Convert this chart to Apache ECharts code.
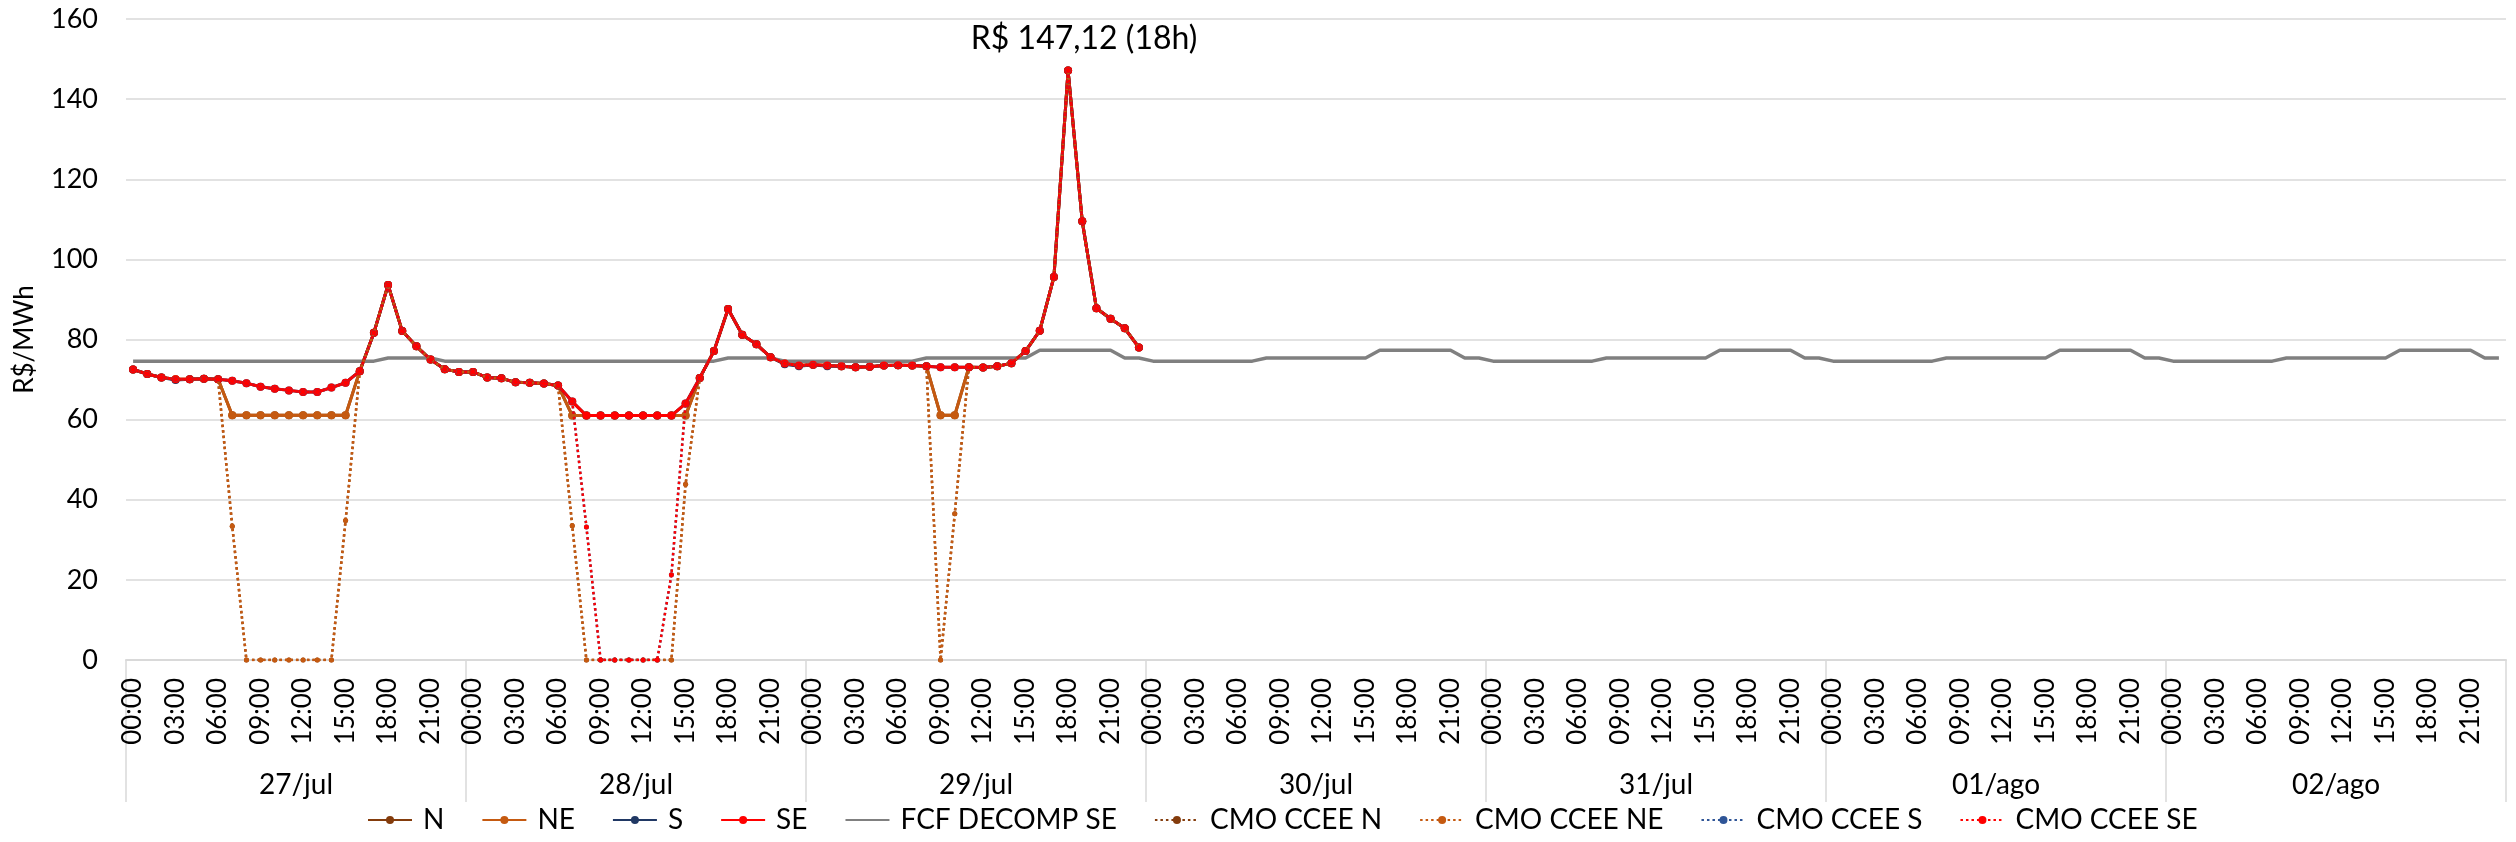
<!DOCTYPE html>
<html>
<head>
<meta charset="utf-8">
<script src="https://cdn.jsdelivr.net/npm/echarts@6/dist/echarts.min.js"></script>
<style>
html,body{margin:0;padding:0;background:#fff;}
#chart{width:2516px;height:842px;}
</style>
</head>
<body>
<div id="chart"></div>
<script>
// ---------- DATA ----------
const HOURS = ['00:00','01:00','02:00','03:00','04:00','05:00','06:00','07:00','08:00','09:00','10:00','11:00',
               '12:00','13:00','14:00','15:00','16:00','17:00','18:00','19:00','20:00','21:00','22:00','23:00'];
const DAYS = ['27/jul','28/jul','29/jul','30/jul','31/jul','01/ago','02/ago'];

const SE = [
  72.5, 71.4, 70.5, 70.1, 70.1, 70.2, 70.1, 69.7, 69.1, 68.2, 67.7, 67.3, 66.9, 66.9, 68.0, 69.2, 72.1, 81.7, 93.6, 82.1, 78.3, 75.0, 72.6, 71.9,
  71.9, 70.5, 70.3, 69.3, 69.2, 69.0, 68.5, 64.5, 61.0, 61.0, 61.0, 61.0, 61.0, 61.0, 61.0, 64.0, 70.4, 77.1, 87.6, 81.2, 78.8, 75.6, 74.0, 73.5,
  73.7, 73.5, 73.3, 73.1, 73.2, 73.5, 73.6, 73.5, 73.3, 73.1, 73.1, 73.1, 73.0, 73.3, 74.1, 77.1, 82.2, 95.6, 147.12, 109.5, 87.8, 85.2, 82.8, 78.0
];
const S = [
  72.5, 71.4, 70.5, 69.9, 70.1, 70.2, 70.1, 69.7, 69.1, 68.2, 67.7, 67.3, 66.9, 66.9, 68.0, 69.2, 72.1, 81.7, 93.6, 82.1, 78.3, 75.0, 72.6, 71.9,
  71.9, 70.5, 70.3, 69.3, 69.2, 69.0, 68.5, 64.5, 61.0, 61.0, 61.0, 61.0, 61.0, 61.0, 61.0, 64.0, 70.4, 77.1, 87.6, 81.2, 78.8, 75.6, 73.8, 73.3,
  73.7, 73.3, 73.3, 73.1, 73.2, 73.5, 73.6, 73.5, 73.3, 73.1, 73.1, 73.1, 73.0, 73.3, 74.1, 77.1, 82.2, 95.6, 147.12, 109.5, 87.8, 85.2, 82.8, 78.0
];
const NE = [
  72.5, 71.4, 70.5, 70.1, 70.1, 70.2, 70.1, 61.1, 61.1, 61.1, 61.1, 61.1, 61.1, 61.1, 61.1, 61.1, 72.1, 81.7, 93.6, 82.1, 78.3, 75.0, 72.6, 71.9,
  71.9, 70.5, 70.3, 69.3, 69.2, 69.0, 68.5, 61.0, 61.0, 61.0, 61.0, 61.0, 61.0, 61.0, 61.0, 61.0, 70.4, 77.1, 87.6, 81.2, 78.8, 75.6, 74.0, 73.5,
  73.7, 73.5, 73.3, 73.1, 73.2, 73.5, 73.6, 73.5, 73.3, 61.1, 61.1, 73.1, 73.0, 73.3, 74.1, 77.1, 82.2, 95.6, 147.12, 109.5, 87.8, 85.2, 82.8, 78.0
];
const N = [
  72.5, 71.4, 70.5, 70.1, 70.1, 70.2, 70.1, 61.1, 61.1, 61.1, 61.1, 61.1, 61.1, 61.1, 61.1, 61.1, 72.1, 81.7, 93.6, 82.1, 78.3, 75.0, 72.6, 71.9,
  71.9, 70.5, 70.3, 69.3, 69.2, 69.0, 68.5, 61.0, 61.0, 61.0, 61.0, 61.0, 61.0, 61.0, 61.0, 61.0, 70.4, 77.1, 87.6, 81.2, 78.8, 75.6, 74.0, 73.5,
  73.7, 73.5, 73.3, 73.1, 73.2, 73.5, 73.6, 73.5, 73.3, 61.1, 61.1, 73.1, 73.0, 73.3, 74.1, 77.1, 82.2, 95.6, 147.12, 109.5, 87.8, 85.2, 82.8, 78.0
];
const FCF_SE = [
  74.6, 74.6, 74.6, 74.6, 74.6, 74.6, 74.6, 74.6, 74.6, 74.6, 74.6, 74.6, 74.6, 74.6, 74.6, 74.6, 74.6, 74.6, 75.4, 75.4, 75.4, 75.4, 74.6, 74.6,
  74.6, 74.6, 74.6, 74.6, 74.6, 74.6, 74.6, 74.6, 74.6, 74.6, 74.6, 74.6, 74.6, 74.6, 74.6, 74.6, 74.6, 74.6, 75.4, 75.4, 75.4, 75.4, 74.6, 74.6,
  74.6, 74.6, 74.6, 74.6, 74.6, 74.6, 74.6, 74.6, 75.4, 75.4, 75.4, 75.4, 75.4, 75.4, 75.4, 75.4, 77.3, 77.3, 77.3, 77.3, 77.3, 77.3, 75.4, 75.4,
  74.6, 74.6, 74.6, 74.6, 74.6, 74.6, 74.6, 74.6, 75.4, 75.4, 75.4, 75.4, 75.4, 75.4, 75.4, 75.4, 77.3, 77.3, 77.3, 77.3, 77.3, 77.3, 75.4, 75.4,
  74.6, 74.6, 74.6, 74.6, 74.6, 74.6, 74.6, 74.6, 75.4, 75.4, 75.4, 75.4, 75.4, 75.4, 75.4, 75.4, 77.3, 77.3, 77.3, 77.3, 77.3, 77.3, 75.4, 75.4,
  74.6, 74.6, 74.6, 74.6, 74.6, 74.6, 74.6, 74.6, 75.4, 75.4, 75.4, 75.4, 75.4, 75.4, 75.4, 75.4, 77.3, 77.3, 77.3, 77.3, 77.3, 77.3, 75.4, 75.4,
  74.6, 74.6, 74.6, 74.6, 74.6, 74.6, 74.6, 74.6, 75.4, 75.4, 75.4, 75.4, 75.4, 75.4, 75.4, 75.4, 77.3, 77.3, 77.3, 77.3, 77.3, 77.3, 75.4, 75.4
];
const CMO_NE = [
  72.5, 71.4, 70.5, 70.1, 70.1, 70.2, 70.1, 33.4, 0, 0, 0, 0, 0, 0, 0, 34.8, 72.1, 81.7, 93.6, 82.1, 78.3, 75.0, 72.6, 71.9,
  71.9, 70.5, 70.3, 69.3, 69.2, 69.0, 68.5, 33.5, 0, 0, 0, 0, 0, 0, 0, 43.9, 70.4, 77.1, 87.6, 81.2, 78.8, 75.6, 74.0, 73.5,
  73.7, 73.5, 73.3, 73.1, 73.2, 73.5, 73.6, 73.5, 73.3, 0, 36.5, 73.1, 73.0, 73.3, 74.1, 77.1, 82.2, 95.6, 147.12, 109.5, 87.8, 85.2, 82.8, 78.0
];
const CMO_N = [
  72.5, 71.4, 70.5, 70.1, 70.1, 70.2, 70.1, 33.4, 0, 0, 0, 0, 0, 0, 0, 34.8, 72.1, 81.7, 93.6, 82.1, 78.3, 75.0, 72.6, 71.9,
  71.9, 70.5, 70.3, 69.3, 69.2, 69.0, 68.5, 33.5, 0, 0, 0, 0, 0, 0, 0, 43.9, 70.4, 77.1, 87.6, 81.2, 78.8, 75.6, 74.0, 73.5,
  73.7, 73.5, 73.3, 73.1, 73.2, 73.5, 73.6, 73.5, 73.3, 0, 36.5, 73.1, 73.0, 73.3, 74.1, 77.1, 82.2, 95.6, 147.12, 109.5, 87.8, 85.2, 82.8, 78.0
];
const CMO_SE = [
  72.5, 71.4, 70.5, 70.1, 70.1, 70.2, 70.1, 69.7, 69.1, 68.2, 67.7, 67.3, 66.9, 66.9, 68.0, 69.2, 72.1, 81.7, 93.6, 82.1, 78.3, 75.0, 72.6, 71.9,
  71.9, 70.5, 70.3, 69.3, 69.2, 69.0, 68.5, 64.5, 33.2, 0, 0, 0, 0, 0, 21.3, 64.0, 70.4, 77.1, 87.6, 81.2, 78.8, 75.6, 74.0, 73.5,
  73.7, 73.5, 73.3, 73.1, 73.2, 73.5, 73.6, 73.5, 73.3, 73.1, 73.1, 73.1, 73.0, 73.3, 74.1, 77.1, 82.2, 95.6, 147.12, 109.5, 87.8, 85.2, 82.8, 78.0
];
const CMO_S = [
  72.5, 71.4, 70.5, 70.1, 70.1, 70.2, 70.1, 69.7, 69.1, 68.2, 67.7, 67.3, 66.9, 66.9, 68.0, 69.2, 72.1, 81.7, 93.6, 82.1, 78.3, 75.0, 72.6, 71.9,
  71.9, 70.5, 70.3, 69.3, 69.2, 69.0, 68.5, 64.5, 33.2, 0, 0, 0, 0, 0, 21.3, 64.0, 70.4, 77.1, 87.6, 81.2, 78.8, 75.6, 74.0, 73.5,
  73.7, 73.5, 73.3, 73.1, 73.2, 73.5, 73.6, 73.5, 73.3, 73.1, 73.1, 73.1, 73.0, 73.3, 74.1, 77.1, 82.2, 95.6, 147.12, 109.5, 87.8, 85.2, 82.8, 78.0
];
const PEAK_INDEX = 66;
const PEAK_LABEL = 'R$ 147,12 (18h)';
const Y_TITLE = 'R$/MWh';

// ---------- CHART ----------
const FONT = 'Lato, "Open Sans", sans-serif';
const categories = [];
DAYS.forEach(d => HOURS.forEach(h => categories.push(d + ' ' + h)));

const chart = echarts.init(document.getElementById('chart'), null, {renderer: 'canvas'});

function solid(name, data, color, z) {
  return {
    name, type: 'line', data, z,
    symbol: 'circle', symbolSize: 8, showSymbol: true,
    lineStyle: {color, width: 3}, itemStyle: {color},
    emphasis: {disabled: true}
  };
}
function dotted(name, data, color, z) {
  return {
    name, type: 'line', data, z,
    symbol: 'circle', symbolSize: 5, showSymbol: true,
    lineStyle: {color, width: 2.5, type: [2.5, 3]}, itemStyle: {color},
    emphasis: {disabled: true}
  };
}

const seSeries = solid('SE', SE, '#FF0000', 6);
seSeries.label = {
  show: true, position: 'top', distance: 12, offset: [16, 0],
  fontFamily: FONT, fontSize: 32, color: '#000',
  formatter: p => p.dataIndex === PEAK_INDEX ? PEAK_LABEL : ''
};

const legendNames = ['N','NE','S','SE','FCF DECOMP SE','CMO CCEE N','CMO CCEE NE','CMO CCEE S','CMO CCEE SE'];

const option = {
  animation: false,
  backgroundColor: '#fff',
  textStyle: {fontFamily: FONT},
  grid: {left: 126, right: 10, top: 19, bottom: 182, containLabel: false},
  legend: {
    bottom: 3, left: 362,
    itemWidth: 44, itemHeight: 10, itemGap: 37,
    textStyle: {fontFamily: FONT, fontSize: 28, color: '#000', padding: [0, 0, 0, 6]},
    data: legendNames.map(n => n === 'FCF DECOMP SE'
      ? {name: n, itemStyle: {color: 'rgba(0,0,0,0)', borderWidth: 0}}
      : {name: n})
  },
  xAxis: [
    {
      type: 'category', data: categories, boundaryGap: true, position: 'bottom',
      axisLine: {show: true, lineStyle: {color: '#d9d9d9', width: 2}},
      axisTick: {show: false},
      axisLabel: {
        interval: 2, rotate: 90, margin: 18,
        fontFamily: FONT, fontSize: 26, color: '#000',
        formatter: v => v.split(' ')[1]
      },
      splitLine: {show: false}
    },
    {
      type: 'category', data: DAYS, boundaryGap: true, position: 'bottom',
      axisLine: {show: false},
      axisTick: {show: true, interval: 0, length: 142, lineStyle: {color: '#d9d9d9', width: 1.5}},
      axisLabel: {interval: 0, margin: 111, fontFamily: FONT, fontSize: 28, color: '#000'},
      splitLine: {show: false}
    }
  ],
  yAxis: {
    type: 'value', min: 0, max: 160, interval: 20,
    name: Y_TITLE, nameLocation: 'middle', nameGap: 88, nameRotate: 90,
    nameTextStyle: {fontFamily: FONT, fontSize: 26, color: '#000'},
    axisLine: {show: false}, axisTick: {show: false},
    axisLabel: {margin: 28, fontFamily: FONT, fontSize: 27, color: '#000'},
    splitLine: {show: true, lineStyle: {color: '#d9d9d9', width: 1.5}}
  },
  series: [
    solid('N', N, '#843C0C', 2),
    solid('NE', NE, '#C55A11', 3),
    solid('S', S, '#203864', 4),
    seSeries,
    {
      name: 'FCF DECOMP SE', type: 'line', data: FCF_SE, z: 5,
      symbol: 'none', showSymbol: false,
      lineStyle: {color: '#808080', width: 3.5}, itemStyle: {color: '#808080'},
      emphasis: {disabled: true}
    },
    dotted('CMO CCEE N', CMO_N, '#843C0C', 7),
    dotted('CMO CCEE NE', CMO_NE, '#C55A11', 8),
    dotted('CMO CCEE S', CMO_S, '#2F5597', 9),
    dotted('CMO CCEE SE', CMO_SE, '#FF0000', 10)
  ]
};
chart.setOption(option);
</script>
</body>
</html>
